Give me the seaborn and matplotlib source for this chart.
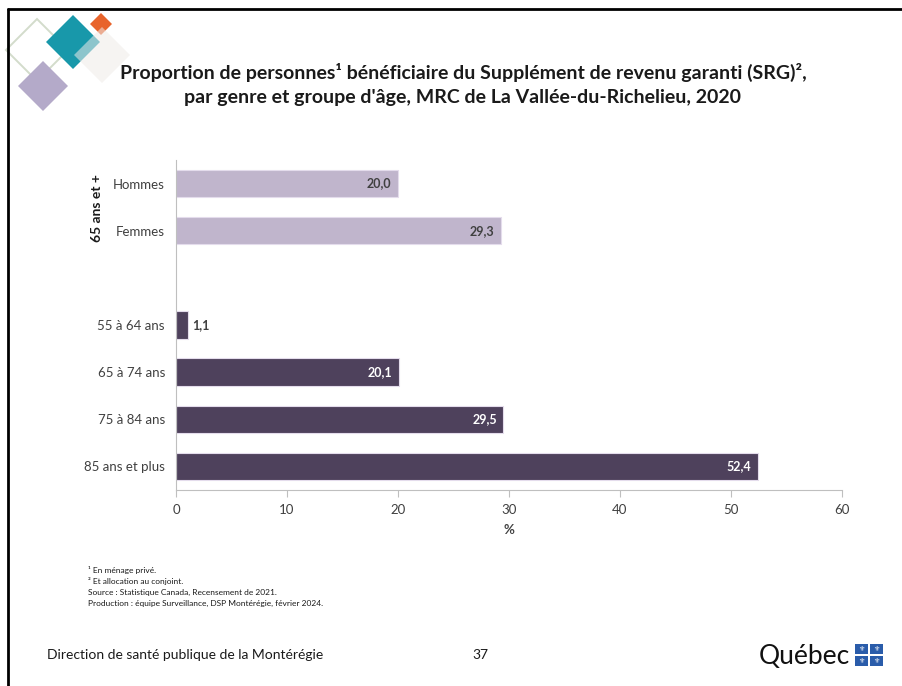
import numpy as np
import pandas as pd
import matplotlib.pyplot as plt
import seaborn as sns
from matplotlib.patches import Polygon, Rectangle
from matplotlib.lines import Line2D

# données du graphique
categories = ['Hommes', 'Femmes', '55 à 64 ans', '65 à 74 ans', '75 à 84 ans', '85 ans et plus']
valeurs = [20.0, 29.3, 1.1, 20.1, 29.5, 52.4]
groupes = ['genre', 'genre', 'âge', 'âge', 'âge', 'âge']
xticks = [0, 10, 20, 30, 40, 50, 60]

df = pd.DataFrame({'categorie': categories, 'pct': valeurs, 'groupe': groupes})
ordre = categories[:2] + [''] + categories[2:]

sns.set_theme(style='white')
plt.rcParams['font.family'] = ['Lato', 'DejaVu Sans']

fig = plt.figure(figsize=(9.02, 6.86), dpi=100)
fig.patch.set_facecolor('white')
W, H = 902, 686

def fx(x):
    return x / W

def fy(y):
    return 1 - y / H

# décor : losanges en haut à gauche
def losange(cx, cy, r, **kw):
    pts = [(fx(cx), fy(cy - r)), (fx(cx + r), fy(cy)), (fx(cx), fy(cy + r)), (fx(cx - r), fy(cy))]
    fig.patches.append(Polygon(pts, closed=True, transform=fig.transFigure, **kw))

losange(37, 50, 31, facecolor='none', edgecolor='#d3dccb', linewidth=1.4)
losange(101, 24, 11, facecolor='#e8642c', edgecolor='none')
losange(73, 42, 27, facecolor='#1898aa', edgecolor='none')
losange(102, 55, 28, facecolor='#efebe9', edgecolor='none', alpha=0.55)
losange(43, 86, 25, facecolor='#b4aac9', edgecolor='none')

# bordure de la diapositive
fig.lines.append(Line2D([fx(8), fx(8)], [fy(9), 0], transform=fig.transFigure, color='black', linewidth=2))
fig.lines.append(Line2D([fx(8), 1], [fy(9), fy(9)], transform=fig.transFigure, color='black', linewidth=2))

# titre
fig.text(fx(463), fy(72), "Proportion de personnes¹ bénéficiaire du Supplément de revenu garanti (SRG)²,",
         ha='center', va='center', fontsize=14, fontweight='bold', color='#1a1a1a')
fig.text(fx(463), fy(98), "par genre et groupe d'âge, MRC de La Vallée-du-Richelieu, 2020",
         ha='center', va='center', fontsize=14, fontweight='bold', color='#1a1a1a')

# graphique
ax = fig.add_axes([fx(176), fy(490), fx(842) - fx(176), fy(160) - fy(490)])
sns.barplot(data=df, y='categorie', x='pct', hue='groupe', order=ordre, orient='h',
            palette={'genre': '#c0b1d0', 'âge': '#4e3c61'}, width=0.58, dodge=False,
            legend=False, edgecolor='#e4dcec', linewidth=0.8, ax=ax)

for p in ax.patches:
    v = p.get_width()
    if np.isnan(v) or v == 0:
        continue
    y = p.get_y() + p.get_height() / 2
    txt = f"{v:.1f}".replace('.', ',')
    clair = p.get_facecolor()[0] > 0.6
    if v < 5:
        ax.text(v + 0.4, y, txt, ha='left', va='center', fontsize=9, fontweight='bold', color='#404040')
    else:
        ax.text(v - 0.6, y, txt, ha='right', va='center', fontsize=9, fontweight='bold',
                color='#404040' if clair else 'white')

ax.set_xlim(0, 60)
ax.set_ylim(6.5, -0.5)
ax.set_xticks(xticks)
ax.set_xticklabels([str(t) for t in xticks], fontsize=9.5, color='#404040')
ax.tick_params(axis='x', length=5, width=0.8, color='#bfbfbf', direction='out', pad=5, bottom=True)
ax.tick_params(axis='y', length=0, pad=8, labelsize=9.5, labelcolor='#404040')
ax.set_ylabel('')
ax.set_xlabel('%', fontsize=9.5, fontweight='bold', color='#404040', labelpad=6)
for s in ['top', 'right']:
    ax.spines[s].set_visible(False)
for s in ['left', 'bottom']:
    ax.spines[s].set_color('#bfbfbf')
    ax.spines[s].set_linewidth(0.8)

fig.text(fx(97), fy(208), '65 ans et +', rotation=90, ha='center', va='center',
         fontsize=10, fontweight='bold', color='#1a1a1a')

# notes
notes = ["¹ En ménage privé.", "² Et allocation au conjoint.",
         "Source : Statistique Canada, Recensement de 2021.",
         "Production : équipe Surveillance, DSP Montérégie, février 2024."]
for i, n in enumerate(notes):
    fig.text(fx(88), fy(570 + i * 11.3), n, ha='left', va='center', fontsize=6, color='#1a1a1a')

# pied de page
fig.text(fx(47), fy(655), 'Direction de santé publique de la Montérégie', ha='left', va='center',
         fontsize=10, color='#1a1a1a')
fig.text(fx(480), fy(655), '37', ha='center', va='center', fontsize=10, color='#1a1a1a')
fig.text(fx(850), fy(657), 'Québec', ha='right', va='center', fontsize=19, color='#111111')
for dx in (0, 1):
    for dy in (0, 1):
        x0, y0 = 855 + dx * 15, 644 + dy * 12
        fig.patches.append(Rectangle((fx(x0), fy(y0 + 10)), fx(13), 10 / H,
                                     transform=fig.transFigure, facecolor='#2a5caa', edgecolor='none'))
        fig.text(fx(x0 + 6.5), fy(y0 + 5), '⚜', ha='center', va='center', fontsize=5,
                 color='white', family='DejaVu Sans')

fig.savefig('out.png', dpi=100, facecolor='white')
